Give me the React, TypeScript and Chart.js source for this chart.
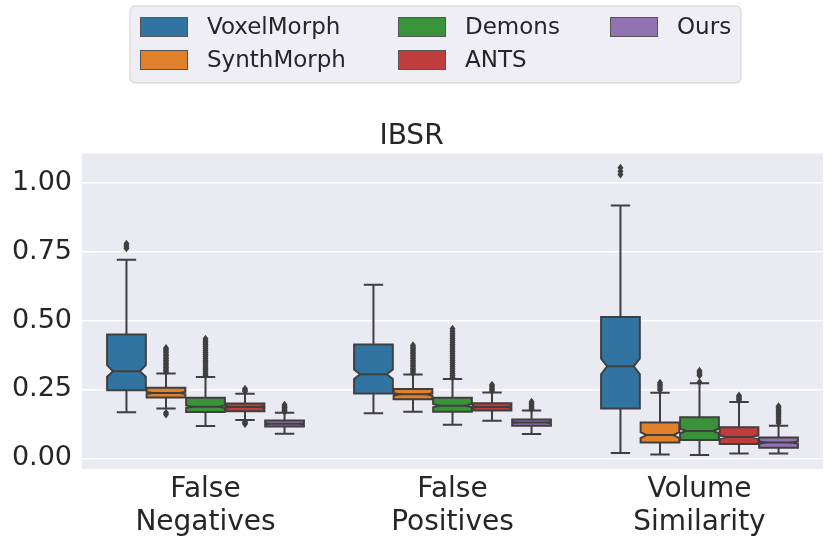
import React, { useEffect, useRef } from 'react';
import { Chart, registerables } from 'chart.js';

Chart.register(...registerables);

const categories = [['False', 'Negatives'], ['False', 'Positives'], ['Volume', 'Similarity']];
const methods = ['VoxelMorph', 'SynthMorph', 'Demons', 'ANTS', 'Ours'];
const colors = ['#3274a1', '#e1812c', '#3a923a', '#c03d3e', '#9372b2'];
const yTicks = [0, 0.25, 0.5, 0.75, 1.0];
const title = 'IBSR';

// Each row is a method (VoxelMorph, SynthMorph, Demons, ANTS, Ours); columns: FN, FP, VS
const whiskerLow = [
  [0.167, 0.163, 0.019],
  [0.181, 0.169, 0.014],
  [0.117, 0.122, 0.012],
  [0.139, 0.136, 0.017],
  [0.089, 0.088, 0.017],
];
const q1 = [
  [0.247, 0.235, 0.181],
  [0.221, 0.214, 0.057],
  [0.168, 0.169, 0.066],
  [0.171, 0.173, 0.052],
  [0.115, 0.118, 0.038],
];
const median = [
  [0.316, 0.305, 0.334],
  [0.237, 0.232, 0.084],
  [0.187, 0.191, 0.099],
  [0.186, 0.186, 0.077],
  [0.125, 0.130, 0.057],
];
const q3 = [
  [0.449, 0.413, 0.513],
  [0.256, 0.251, 0.130],
  [0.220, 0.220, 0.149],
  [0.199, 0.200, 0.113],
  [0.137, 0.141, 0.075],
];
const whiskerHigh = [
  [0.721, 0.630, 0.918],
  [0.308, 0.304, 0.238],
  [0.295, 0.288, 0.272],
  [0.234, 0.239, 0.204],
  [0.165, 0.173, 0.118],
];
const notchLow = [
  [0.296, 0.288, 0.305],
  [0.233, 0.228, 0.073],
  [0.182, 0.185, 0.091],
  [0.183, 0.183, 0.071],
  [0.123, 0.128, 0.053],
];
const notchHigh = [
  [0.338, 0.322, 0.362],
  [0.241, 0.236, 0.095],
  [0.192, 0.197, 0.107],
  [0.189, 0.189, 0.083],
  [0.127, 0.132, 0.061],
];
const outliers = [
  [
    [0.762, 0.771, 0.779],
    [],
    [1.03, 1.042, 1.055],
  ],
  [
    [0.159, 0.165, 0.312, 0.318, 0.323, 0.329, 0.334, 0.34, 0.345, 0.351, 0.356, 0.362, 0.367, 0.373, 0.378, 0.384, 0.389, 0.395, 0.4],
    [0.308, 0.314, 0.32, 0.326, 0.332, 0.338, 0.344, 0.35, 0.356, 0.362, 0.368, 0.374, 0.38, 0.386, 0.392, 0.398, 0.404, 0.41],
    [0.248, 0.255, 0.262, 0.268, 0.274],
  ],
  [
    [0.3, 0.307, 0.314, 0.321, 0.328, 0.335, 0.342, 0.349, 0.356, 0.363, 0.37, 0.377, 0.384, 0.391, 0.398, 0.405, 0.412, 0.419, 0.426, 0.434],
    [0.293, 0.3, 0.308, 0.316, 0.324, 0.332, 0.34, 0.348, 0.356, 0.364, 0.372, 0.38, 0.388, 0.396, 0.404, 0.412, 0.42, 0.428, 0.436, 0.444, 0.452, 0.461, 0.47],
    [0.276, 0.3, 0.306, 0.312, 0.318],
  ],
  [
    [0.124, 0.128, 0.132, 0.242, 0.247, 0.252],
    [0.243, 0.249, 0.255, 0.261, 0.267],
    [0.208, 0.213, 0.218, 0.223, 0.228],
  ],
  [
    [0.169, 0.174, 0.179, 0.184, 0.189, 0.194],
    [0.177, 0.182, 0.188, 0.194, 0.2, 0.205],
    [0.128, 0.135, 0.142, 0.15, 0.157, 0.163, 0.17, 0.176, 0.183, 0.189],
  ],
];

const FONT = 'DejaVu Sans';
const LINE = '#3f3f3f';
const TEXT = '#262626';
const AXES_BG = '#eaeaf2';

const backgroundPlugin = {
  id: 'axesBackground',
  beforeDraw(chart: any) {
    const { ctx, chartArea } = chart;
    ctx.save();
    ctx.fillStyle = AXES_BG;
    ctx.fillRect(chartArea.left, chartArea.top, chartArea.right - chartArea.left, chartArea.bottom - chartArea.top);
    ctx.restore();
  },
};

const boxPlugin = {
  id: 'notchedBoxes',
  afterDatasetsDraw(chart: any) {
    const ctx = chart.ctx;
    const yScale = chart.scales.y;
    const py = (v: number) => yScale.getPixelForValue(v);
    ctx.save();
    ctx.beginPath();
    ctx.rect(chart.chartArea.left, chart.chartArea.top, chart.chartArea.right - chart.chartArea.left, chart.chartArea.bottom - chart.chartArea.top);
    ctx.clip();
    chart.data.datasets.forEach((_ds: any, m: number) => {
      const meta = chart.getDatasetMeta(m);
      meta.data.forEach((bar: any, c: number) => {
        const { x, width } = bar.getProps(['x', 'width'], true);
        const L = x - width / 2;
        const R = x + width / 2;
        const inset = width * 0.155;
        const nL = L + inset;
        const nR = R - inset;
        const capHalf = width / 4;
        ctx.strokeStyle = LINE;
        ctx.lineWidth = 2;
        ctx.lineJoin = 'miter';
        // whiskers
        ctx.beginPath();
        ctx.moveTo(x, py(q3[m][c]));
        ctx.lineTo(x, py(whiskerHigh[m][c]));
        ctx.moveTo(x - capHalf, py(whiskerHigh[m][c]));
        ctx.lineTo(x + capHalf, py(whiskerHigh[m][c]));
        ctx.moveTo(x, py(q1[m][c]));
        ctx.lineTo(x, py(whiskerLow[m][c]));
        ctx.moveTo(x - capHalf, py(whiskerLow[m][c]));
        ctx.lineTo(x + capHalf, py(whiskerLow[m][c]));
        ctx.stroke();
        // notched box
        ctx.beginPath();
        ctx.moveTo(L, py(q1[m][c]));
        ctx.lineTo(R, py(q1[m][c]));
        ctx.lineTo(R, py(notchLow[m][c]));
        ctx.lineTo(nR, py(median[m][c]));
        ctx.lineTo(R, py(notchHigh[m][c]));
        ctx.lineTo(R, py(q3[m][c]));
        ctx.lineTo(L, py(q3[m][c]));
        ctx.lineTo(L, py(notchHigh[m][c]));
        ctx.lineTo(nL, py(median[m][c]));
        ctx.lineTo(L, py(notchLow[m][c]));
        ctx.closePath();
        ctx.fillStyle = colors[m];
        ctx.fill();
        ctx.stroke();
        // median
        ctx.beginPath();
        ctx.moveTo(nL, py(median[m][c]));
        ctx.lineTo(nR, py(median[m][c]));
        ctx.stroke();
        // outliers
        ctx.fillStyle = LINE;
        outliers[m][c].forEach((v) => {
          const yy = py(v);
          ctx.beginPath();
          ctx.moveTo(x, yy - 4);
          ctx.lineTo(x + 3, yy);
          ctx.lineTo(x, yy + 4);
          ctx.lineTo(x - 3, yy);
          ctx.closePath();
          ctx.fill();
        });
      });
    });
    ctx.restore();
  },
};

const legendPlugin = {
  id: 'columnLegend',
  afterDraw(chart: any) {
    const ctx = chart.ctx;
    const left = 130;
    const top = 6;
    const w = 611;
    const h = 77;
    const r = 5;
    ctx.save();
    ctx.beginPath();
    ctx.moveTo(left + r, top);
    ctx.arcTo(left + w, top, left + w, top + h, r);
    ctx.arcTo(left + w, top + h, left, top + h, r);
    ctx.arcTo(left, top + h, left, top, r);
    ctx.arcTo(left, top, left + w, top, r);
    ctx.closePath();
    ctx.fillStyle = '#eeeef4';
    ctx.fill();
    ctx.strokeStyle = '#d0d0d0';
    ctx.lineWidth = 1;
    ctx.stroke();
    const colX = [140, 398, 610];
    const rowY = [27, 60];
    ctx.font = `23px "${FONT}"`;
    ctx.textBaseline = 'middle';
    ctx.textAlign = 'left';
    methods.forEach((name, i) => {
      const col = Math.floor(i / 2);
      const row = i % 2;
      const sx = colX[col];
      const sy = rowY[row];
      ctx.fillStyle = colors[i];
      ctx.fillRect(sx, sy - 10, 48, 20);
      ctx.strokeStyle = '#555555';
      ctx.lineWidth = 1;
      ctx.strokeRect(sx + 0.5, sy - 9.5, 47, 19);
      ctx.fillStyle = TEXT;
      ctx.fillText(name, sx + 67, sy + 1);
    });
    ctx.restore();
  },
};

export default function App() {
  const canvasRef = useRef<HTMLCanvasElement | null>(null);

  useEffect(() => {
    if (!canvasRef.current) return;
    const chart = new Chart(canvasRef.current, {
      type: 'bar',
      data: {
        labels: categories as any,
        datasets: methods.map((name, m) => ({
          label: name,
          data: q1[m].map((v, c) => [v, q3[m][c]]) as any,
          backgroundColor: 'rgba(0,0,0,0)',
          borderWidth: 0,
          categoryPercentage: 0.8,
          barPercentage: 0.98,
        })),
      },
      options: {
        animation: false,
        responsive: true,
        maintainAspectRatio: false,
        layout: { padding: { top: 120, right: 8, bottom: 0, left: 0 } },
        plugins: {
          legend: { display: false },
          tooltip: { enabled: false },
          title: {
            display: true,
            text: title,
            color: TEXT,
            font: { family: FONT, size: 28, weight: 'normal' },
            padding: { top: 0, bottom: 0 },
          },
        },
        scales: {
          x: {
            type: 'category',
            offset: true,
            grid: { display: false },
            border: { display: false },
            ticks: {
              color: TEXT,
              font: { family: FONT, size: 28, lineHeight: 1.15 },
              padding: -3,
              maxRotation: 0,
              autoSkip: false,
            },
            afterFit: (scale: any) => {
              scale.height = 78;
            },
          },
          y: {
            type: 'linear',
            min: -0.039,
            max: 1.106,
            grid: { color: '#ffffff', lineWidth: 1.5, drawTicks: false },
            border: { display: false },
            ticks: {
              color: TEXT,
              font: { family: FONT, size: 27 },
              padding: 10,
              callback: (v: any) => Number(v).toFixed(2),
            },
            afterBuildTicks: (scale: any) => {
              scale.ticks = yTicks.map((v) => ({ value: v }));
            },
            afterFit: (scale: any) => {
              scale.width = 82;
            },
          },
        },
      },
      plugins: [backgroundPlugin, boxPlugin, legendPlugin],
    });
    return () => chart.destroy();
  }, []);

  return (
    <div style={{ position: 'absolute', left: 0, top: 0, width: 831, height: 547, background: '#ffffff' }}>
      <canvas ref={canvasRef} />
    </div>
  );
}
